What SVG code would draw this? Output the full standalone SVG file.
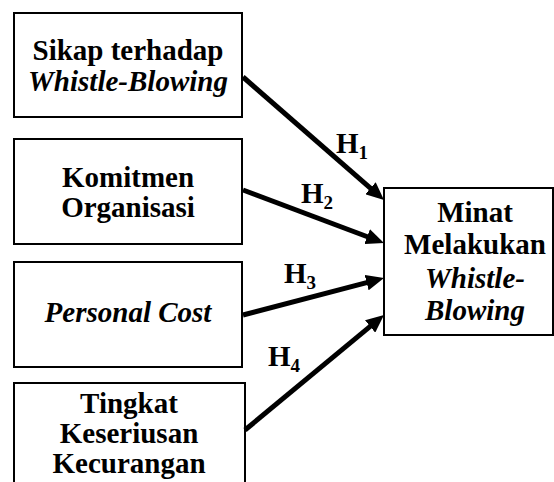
<svg xmlns="http://www.w3.org/2000/svg" width="554" height="482" viewBox="0 0 554 482">
<style>
.box{fill:#fff;stroke:#000;stroke-width:2}
.t{font-family:"Liberation Serif","Times New Roman",serif;font-size:29px;font-weight:bold;text-anchor:middle;fill:#000}
.i{font-style:italic}
.h{font-family:"Liberation Serif","Times New Roman",serif;font-size:29px;font-weight:bold;fill:#000}
.sub{font-size:19px}
.edge{stroke:#000;stroke-width:5;fill:none;marker-end:url(#ah)}
</style>
<defs>
<marker id="ah" markerUnits="userSpaceOnUse" markerWidth="18" markerHeight="16" viewBox="0 0 18 16" refX="6" refY="8" orient="auto">
<path d="M0,0 L18,8 L0,16 z" fill="#000"/>
</marker>
</defs>
<g id="n1">
<rect class="box" x="14" y="13" width="228" height="104"/>
<text class="t" x="128" y="60">Sikap terhadap</text>
<text class="t i" x="128" y="91">Whistle-Blowing</text>
</g>
<g id="n2">
<rect class="box" x="14" y="139" width="228" height="105"/>
<text class="t" x="128" y="187">Komitmen</text>
<text class="t" x="128" y="217">Organisasi</text>
</g>
<g id="n3">
<rect class="box" x="14" y="262" width="228" height="105"/>
<text class="t i" x="128" y="322">Personal Cost</text>
</g>
<g id="n4">
<rect class="box" x="14" y="383" width="231" height="120"/>
<text class="t" x="129" y="413">Tingkat</text>
<text class="t" x="129" y="443">Keseriusan</text>
<text class="t" x="129" y="473">Kecurangan</text>
</g>
<g id="n5">
<rect class="box" x="384" y="188" width="169" height="147"/>
<text class="t" x="475" y="222">Minat</text>
<text class="t" x="475" y="254">Melakukan</text>
<text class="t i" x="475" y="288">Whistle-</text>
<text class="t i" x="475" y="320">Blowing</text>
</g>
<g id="edges">
<line class="edge" x1="243" y1="77" x2="374.96" y2="192.11"/>
<line class="edge" x1="243" y1="190" x2="372.76" y2="238.78"/>
<line class="edge" x1="243" y1="315" x2="372.4" y2="281.05"/>
<line class="edge" x1="245" y1="430" x2="374.75" y2="322.65"/>
<text class="h" x="336" y="153">H<tspan class="sub" dy="6">1</tspan></text>
<text class="h" x="301" y="203">H<tspan class="sub" dy="6">2</tspan></text>
<text class="h" x="284" y="283">H<tspan class="sub" dy="6">3</tspan></text>
<text class="h" x="268" y="366">H<tspan class="sub" dy="6">4</tspan></text>
</g>
</svg>
